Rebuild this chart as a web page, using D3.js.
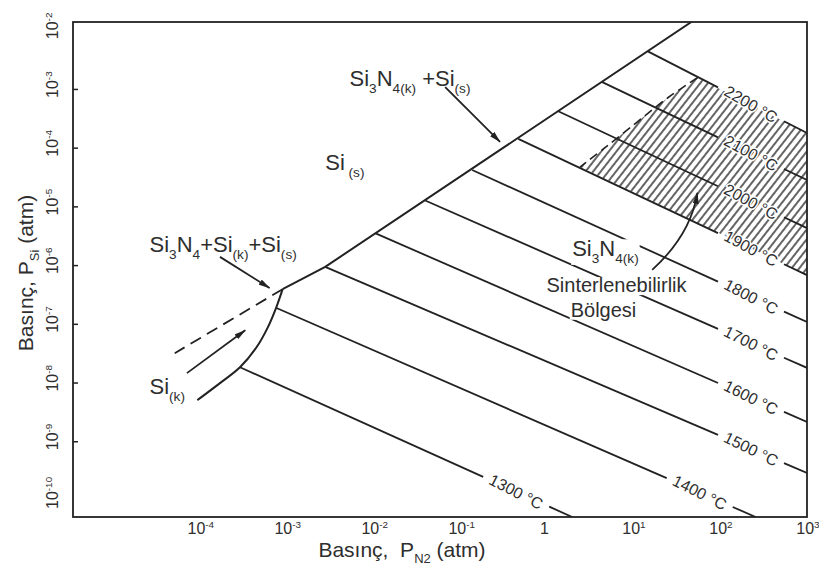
<!DOCTYPE html>
<html>
<head>
<meta charset="utf-8">
<script src="https://cdn.jsdelivr.net/npm/d3@7"></script>
<style>
  body { margin: 0; background: #fff; }
  svg { display: block; font-family: "Liberation Sans", Arial, sans-serif; }
</style>
</head>
<body>
<div id="chart"></div>
<script>
// Isotherms: log10 P_N2 / log10 P_Si where each line starts (on the phase boundary) and ends
const temps = [1300, 1400, 1500, 1600, 1700, 1800, 1900, 2000, 2100, 2200];
const startLogN2 = [-3.50, -3.08, -2.52, -1.94, -1.37, -0.83, -0.30, 0.16, 0.66, 1.19];
const startLogSi = [-7.74, -6.73, -6.03, -5.46, -4.90, -4.38, -3.85, -3.38, -2.88, -2.36];
const endLogN2 = [0.32, 2.43, 3.02, 3.02, 3.02, 3.02, 3.02, 3.02, 3.02, 3.02];
const endLogSi = [-10.29, -10.29, -9.54, -8.67, -7.75, -6.97, -6.17, -5.37, -4.55, -3.75];

// Si3N4(k) + Si(s) boundary
const boundaryLogN2 = [-3.01, -2.52, 1.69];
const boundaryLogSi = [-6.41, -6.03, -1.86];
// Si(k) boundary curve below the triple point
const liquidLogN2 = [-3.01, -3.08, -3.18, -3.31, -3.50, -3.73, -3.99];
const liquidLogSi = [-6.41, -6.71, -7.06, -7.40, -7.74, -8.01, -8.30];
// dashed continuation of the boundary
const dashLogN2 = [-3.01, -4.25];
const dashLogSi = [-6.41, -7.50];

// left (dashed) edge of the sinterable region, between the 2200 and 1900 isotherms
const sinterEdgeLogN2 = [1.76, 1.42, 1.07, 0.69, 0.41];
const sinterEdgeLogSi = [-2.81, -3.15, -3.56, -4.01, -4.33];

const xTicks = [-4, -3, -2, -1, 0, 1, 2, 3];
const yTicks = [-10, -9, -8, -7, -6, -5, -4, -3, -2];
const yTickMarks = [-9, -8, -7, -6, -5, -4, -3];

const width = 819, height = 572;
const margin = { top: 22, right: 12, bottom: 55, left: 73 };
const ink = '#222';
const textInk = '#2e2e2e';

const svg = d3.select('#chart')
    .append('svg')
    .attr('width', width)
    .attr('height', height);

const x = d3.scaleLog()
    .domain([10 ** -5.42, 10 ** 3.02])
    .range([margin.left, width - margin.right]);
const y = d3.scaleLog()
    .domain([10 ** -10.29, 10 ** -1.86])
    .range([height - margin.bottom, margin.top]);
const px = d => x(10 ** d);
const py = e => y(10 ** e);

// Defs: clip, hatch, arrow head
const defs = svg.append('defs');
defs.append('clipPath').attr('id', 'plot-clip')
    .append('rect')
    .attr('x', margin.left).attr('y', margin.top)
    .attr('width', width - margin.left - margin.right)
    .attr('height', height - margin.top - margin.bottom);

const hatch = defs.append('pattern')
    .attr('id', 'hatch')
    .attr('patternUnits', 'userSpaceOnUse')
    .attr('width', 6).attr('height', 10)
    .attr('patternTransform', 'rotate(38)');
hatch.append('line')
    .attr('x1', 3).attr('y1', 0).attr('x2', 3).attr('y2', 10)
    .attr('stroke', ink).attr('stroke-width', 1.4);

defs.append('marker')
    .attr('id', 'arrow')
    .attr('viewBox', '0 0 12 6')
    .attr('preserveAspectRatio', 'none')
    .attr('refX', 11).attr('refY', 3)
    .attr('markerWidth', 12).attr('markerHeight', 6)
    .attr('markerUnits', 'userSpaceOnUse')
    .attr('orient', 'auto')
    .append('path')
    .attr('d', 'M0,0L12,3L0,6Z')
    .attr('fill', ink);

const plot = svg.append('g').attr('clip-path', 'url(#plot-clip)');

// Sinterable region (hatched)
const sinterPoly = [
    [sinterEdgeLogN2[0], sinterEdgeLogSi[0]],
    [endLogN2[9], endLogSi[9]],
    [endLogN2[6], endLogSi[6]]
].concat(sinterEdgeLogN2.map((d, i) => [d, sinterEdgeLogSi[i]]).reverse());

plot.append('path')
    .attr('d', d3.line().x(p => px(p[0])).y(p => py(p[1]))(sinterPoly) + 'Z')
    .attr('fill', 'url(#hatch)');

plot.append('path')
    .attr('d', d3.line().curve(d3.curveCatmullRom).x((d, i) => px(d)).y((d, i) => py(sinterEdgeLogSi[i]))(sinterEdgeLogN2))
    .attr('fill', 'none')
    .attr('stroke', ink)
    .attr('stroke-width', 1.6)
    .attr('stroke-dasharray', '9,5');

// Isotherms with a gap for the rotated label
const isoG = plot.append('g');
temps.forEach((t, i) => {
    const x1 = px(startLogN2[i]), y1 = py(startLogSi[i]);
    const x2 = px(endLogN2[i]), y2 = py(endLogSi[i]);
    const k = (y2 - y1) / (x2 - x1);
    const cx = x2 - 56;
    const cy = y1 + (cx - x1) * k;
    const gap = 33;

    isoG.append('line')
        .attr('x1', x1).attr('y1', y1)
        .attr('x2', cx - gap).attr('y2', y1 + (cx - gap - x1) * k);
    isoG.append('line')
        .attr('x1', cx + gap).attr('y1', y1 + (cx + gap - x1) * k)
        .attr('x2', x2).attr('y2', y2);

    const angle = Math.atan(k) * 180 / Math.PI + 3;
    isoG.append('text')
        .attr('transform', `translate(${cx},${cy}) rotate(${angle})`)
        .attr('text-anchor', 'middle')
        .attr('dy', '0.35em')
        .attr('font-size', 16)
        .attr('fill', textInk)
        .attr('stroke', '#fff')
        .attr('stroke-width', 3)
        .attr('paint-order', 'stroke')
        .text(`${t} °C`);
});
isoG.selectAll('line')
    .attr('stroke', ink)
    .attr('stroke-width', 1.8);

// Phase boundaries
const toLine = (xs, ys) => d3.line().x((d, i) => px(d)).y((d, i) => py(ys[i]))(xs);

plot.append('path')
    .attr('d', toLine(boundaryLogN2, boundaryLogSi))
    .attr('fill', 'none').attr('stroke', ink).attr('stroke-width', 2);

plot.append('path')
    .attr('d', d3.line().curve(d3.curveCatmullRom).x(d => px(d)).y((d, i) => py(liquidLogSi[i]))(liquidLogN2))
    .attr('fill', 'none').attr('stroke', ink).attr('stroke-width', 2);

plot.append('path')
    .attr('d', toLine(dashLogN2, dashLogSi))
    .attr('fill', 'none').attr('stroke', ink).attr('stroke-width', 1.8)
    .attr('stroke-dasharray', '12,7');

// Text with sub / superscripts
function richText(sel, parts, size) {
    let shift = 0;
    parts.forEach(([str, kind]) => {
        const target = kind === 'sub' ? size * 0.3 : kind === 'sup' ? -size * 0.4 : 0;
        sel.append('tspan')
            .attr('dy', target - shift)
            .attr('font-size', kind ? size * 0.62 : size)
            .text(str);
        shift = target;
    });
    return sel;
}

// Region labels (anchor given in log10 P_N2 / log10 P_Si)
const labels = [
    { at: [-2.52, -4.38], parts: [['Si'], [' (s)', 'sub']] },
    { at: [-2.24, -2.95], parts: [['Si'], ['3', 'sub'], ['N'], ['4(k)', 'sub'], [' +Si'], ['(s)', 'sub']] },
    { at: [-4.54, -5.78], parts: [['Si'], ['3', 'sub'], ['N'], ['4', 'sub'], ['+Si'], ['(k)', 'sub'], ['+Si'], ['(s)', 'sub']] },
    { at: [-4.54, -8.20], parts: [['Si'], ['(k)', 'sub']] },
    { at: [0.32, -5.85], parts: [['Si'], ['3', 'sub'], ['N'], ['4(k)', 'sub']], box: true },
    { at: [0.83, -6.46], parts: [['Sinterlenebilirlik']], box: true, anchor: 'middle', size: 20 },
    { at: [0.68, -6.88], parts: [['Bölgesi']], box: true, anchor: 'middle', size: 20 }
];

// Annotation arrows
const arrows = [
    { from: [-1.14, -2.97], to: [-0.51, -3.90] },
    { from: [-3.73, -5.86], to: [-3.16, -6.39] },
    { from: [-4.11, -7.84], to: [-3.44, -7.11] },
    { from: [1.24, -6.08], ctrl: [1.68, -5.49], to: [1.76, -4.77] }
];

const annG = svg.append('g');
labels.forEach(l => {
    const g = annG.append('g');
    const t = g.append('text')
        .attr('x', px(l.at[0]))
        .attr('y', py(l.at[1]))
        .attr('text-anchor', l.anchor || 'start')
        .attr('fill', textInk);
    richText(t, l.parts, l.size || 22);
    if (l.box) {
        const b = t.node().getBBox();
        g.insert('rect', 'text')
            .attr('x', b.x - 1).attr('y', b.y + 3)
            .attr('width', b.width + 2).attr('height', b.height - 4)
            .attr('fill', '#fff');
    }
});

arrows.forEach(a => {
    const p = d3.path();
    p.moveTo(px(a.from[0]), py(a.from[1]));
    if (a.ctrl) p.quadraticCurveTo(px(a.ctrl[0]), py(a.ctrl[1]), px(a.to[0]), py(a.to[1]));
    else p.lineTo(px(a.to[0]), py(a.to[1]));
    annG.append('path')
        .attr('d', p.toString())
        .attr('fill', 'none')
        .attr('stroke', ink)
        .attr('stroke-width', 1.8)
        .attr('marker-end', 'url(#arrow)');
});

// Frame
svg.append('rect')
    .attr('x', margin.left).attr('y', margin.top)
    .attr('width', width - margin.left - margin.right)
    .attr('height', height - margin.top - margin.bottom)
    .attr('fill', 'none')
    .attr('stroke', ink)
    .attr('stroke-width', 1.8);

// Y ticks (inward) and labels
svg.append('g')
    .attr('transform', `translate(${margin.left},0)`)
    .call(d3.axisLeft(y).tickValues(yTickMarks.map(e => 10 ** e)).tickSize(-5).tickFormat(''))
    .call(g => g.select('.domain').remove())
    .call(g => g.selectAll('line').attr('stroke', ink).attr('stroke-width', 1.5));

yTicks.forEach(e => {
    const t = svg.append('text')
        .attr('transform', `translate(58,${py(e)}) rotate(-90)`)
        .attr('x', -9)
        .attr('fill', textInk);
    richText(t, [['10'], [String(e), 'sup']], 16);
});

// X tick labels
xTicks.forEach(d => {
    const t = svg.append('text')
        .attr('x', d === 0 ? px(d) : px(d) - 9)
        .attr('y', 534)
        .attr('text-anchor', d === 0 ? 'middle' : 'start')
        .attr('fill', textInk);
    richText(t, d === 0 ? [['1']] : [['10'], [String(d), 'sup']], 16);
});

// Axis titles
const xTitle = svg.append('text')
    .attr('x', 402).attr('y', 557)
    .attr('text-anchor', 'middle')
    .attr('fill', textInk);
richText(xTitle, [['Basınç,\u00a0 P'], ['N2', 'sub'], [' (atm)']], 21);

const yTitle = svg.append('text')
    .attr('transform', `translate(33,273) rotate(-90)`)
    .attr('text-anchor', 'middle')
    .attr('fill', textInk);
richText(yTitle, [['Basınç, P'], ['Si', 'sub'], [' (atm)']], 21);
</script>
</body>
</html>
